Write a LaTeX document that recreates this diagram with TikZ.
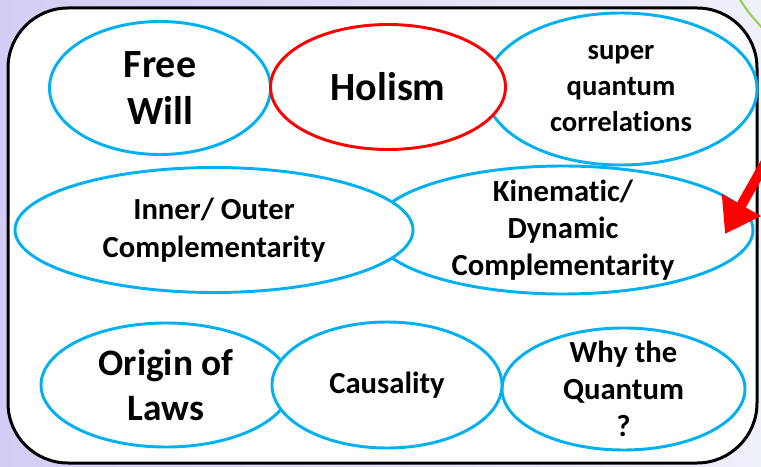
\documentclass[tikz,border=0pt]{standalone}
\usepackage{fontspec}
\setmainfont{Carlito}[Ligatures=NoCommon]
\usetikzlibrary{shapes.geometric, arrows.meta}
\definecolor{topicblue}{RGB}{0,176,240}
\definecolor{holred}{RGB}{255,0,0}
\definecolor{bgleft}{RGB}{212,204,244}
\definecolor{bgright}{RGB}{238,240,250}
\definecolor{leafgreen}{RGB}{146,208,80}
\tikzset{
	topic/.style={ellipse, draw=topicblue, line width=2.2pt, fill=white, inner sep=0pt},
	big/.style={font=\fontsize{30}{35}\selectfont\bfseries, align=center},
	mid/.style={font=\fontsize{23}{28}\selectfont\bfseries, align=center},
	small/.style={font=\fontsize{21.5}{27}\selectfont\bfseries, align=center}
}

\begin{document}
\begin{tikzpicture}[x=0.75pt, y=-0.75pt]

		\useasboundingbox (0,0) rectangle (761,467);
		\clip (0,0) rectangle (761,467);
		\shade[left color=bgleft, right color=bgright] (0,0) rectangle (761,467);
		\draw[leafgreen, line width=1.5pt] (739,-2) .. controls (748,12) .. (764,30);

		% frame %
		\draw[line width=2.25pt, fill=white, rounded corners=45pt] (8,8) rectangle (757,463);

		% nodes - top row %
		\node[topic, minimum width=165.75pt, minimum height=99.75pt,
			label={[big]center:{Free\\Will}}] (free) at (160,88) {};
		\node[topic, minimum width=204pt, minimum height=114pt,
			label={[small]center:{super\\quantum\\correlations}}] (super) at (621,89) {};
		\node[topic, draw=holred, minimum width=176.25pt, minimum height=93.75pt,
			label={[big]center:Holism}] (holism) at (388,87) {};

		% nodes - middle row %
		\node[topic, minimum width=285pt, minimum height=96pt,
			label={[mid]center:{Kinematic/\\Dynamic\\Complementarity}}] (kin) at (563,230) {};
		\node[topic, minimum width=298.5pt, minimum height=93.75pt,
			label={[mid]center:{Inner/ Outer\\Complementarity}}] (inner) at (214,230) {};

		% nodes - bottom row %
		\node[topic, minimum width=187.5pt, minimum height=93pt,
			label={[big, font=\fontsize{28}{34}\selectfont\bfseries]center:{Origin of\\Laws}}] (origin) at (166,385) {};
		\node[topic, minimum width=182.25pt, minimum height=91.5pt,
			label={[mid]center:{Why the\\Quantum\\?}}] (why) at (623.5,389) {};
		\node[topic, minimum width=172.5pt, minimum height=94.5pt,
			label={[mid]center:Causality}] (causal) at (387,385) {};

		% pointer %
		\coordinate (tip) at (725,234);
		\draw[holred, line width=7.5pt, -{Triangle[length=25pt, width=32pt]}] (768,158) -- (tip);

\end{tikzpicture}
\end{document}
